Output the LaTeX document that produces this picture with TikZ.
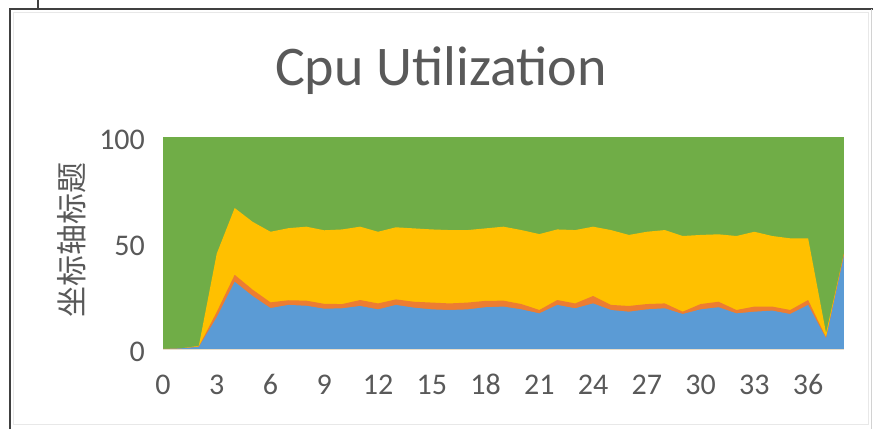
\documentclass[tikz,border=0pt]{standalone}
\usepackage{fontspec}
\setmainfont{Carlito}
\newfontfamily\cjkfont{Noto Sans CJK SC}
\definecolor{txtgray}{HTML}{595959}
\definecolor{framegray}{HTML}{404040}
\definecolor{seriesA}{HTML}{5B9BD5}
\definecolor{seriesB}{HTML}{ED7D31}
\definecolor{seriesC}{HTML}{FFC000}
\definecolor{seriesD}{HTML}{70AD47}
\tikzset{
  ticklabel/.style={text=txtgray, font=\fontsize{30}{30}\selectfont, inner sep=0pt},
  charttitle/.style={text=txtgray, font=\fontsize{56}{56}\selectfont, inner sep=0pt},
  axistitle/.style={text=txtgray, font=\cjkfont\fontsize{31}{31}\selectfont, inner sep=0pt, rotate=90},
}
\begin{document}
\begin{tikzpicture}[x=1pt, y=-1pt]
  \useasboundingbox (0,0) rectangle (873,429);
  \fill[white] (0,0) rectangle (873,429);

  % outer frame lines
  \draw[framegray, line width=2pt] (10,429) -- (10,9) -- (873,9);
  \draw[framegray, line width=1.5pt] (38,0) -- (38,9);
  \draw[gray!35, line width=1pt] (871,9) -- (871,429);
  % chart area border
  \draw[gray!18, line width=0.8pt] (13,12) rectangle (868,424);

  % title
  \node[charttitle, anchor=base] (title) at (441,85) {Cpu Utilization};

  % stacked areas (100% stacked): x = sample index, y = percent
  \begin{scope}[shift={(163,349)}, x=17.92pt, y=2.12pt]
    \fill[seriesD] (0,0) rectangle (38,100);
    \fill[seriesC] (0,0)
      \foreach \v [count=\i from 0] in {0,0.3,1.5,45,66.5,60,55.3,57,57.7,56,56.4,57.7,55.3,57.4,56.9,56.4,56.1,56.1,56.9,57.7,56.1,54.2,56.4,56.1,57.7,56.1,53.8,55.3,56.1,53.3,53.8,54.1,53.3,55.3,53.3,52.2,52.2,7.5,45} { -- (\i,\v) }
      -- (38,0) -- cycle;
    \fill[seriesB] (0,0)
      \foreach \v [count=\i from 0] in {0,0.3,1.2,17.5,35,28,22,23,22.8,21.3,21.2,23.1,21.5,23.4,22.3,21.9,21.5,21.9,22.7,22.8,21.2,18.4,23.1,21.5,25.0,20.8,20.3,21.2,21.5,17.6,21.2,22.3,18.4,20.0,20.0,18.4,23.1,5.5,45} { -- (\i,\v) }
      -- (38,0) -- cycle;
    \fill[seriesA] (0,0)
      \foreach \v [count=\i from 0] in {0,0.3,1,15,31.7,25,19.3,20.8,20.4,19,19.2,20.3,18.7,20.8,19.5,18.7,18.4,18.7,19.7,20.0,18.7,16.8,20.8,19.2,21.5,18.4,17.6,18.7,19.2,16.5,18.7,19.7,16.8,17.6,18.1,16.5,20.8,5,44} { -- (\i,\v) }
      -- (38,0) -- cycle;

    % value axis labels
    \foreach \v in {0,50,100}
      \node[ticklabel, anchor=base east] (ylab\v) at (-1.0,\v-5.9) {\v};
    % category axis labels
    \foreach \c in {0,3,...,36}
      \node[ticklabel, anchor=base] (xlab\c) at (\c,-21.3) {\c};
  \end{scope}

  % value axis title
  \node[axistitle] (ytitle) at (72,240) {坐标轴标题};
\end{tikzpicture}
\end{document}
